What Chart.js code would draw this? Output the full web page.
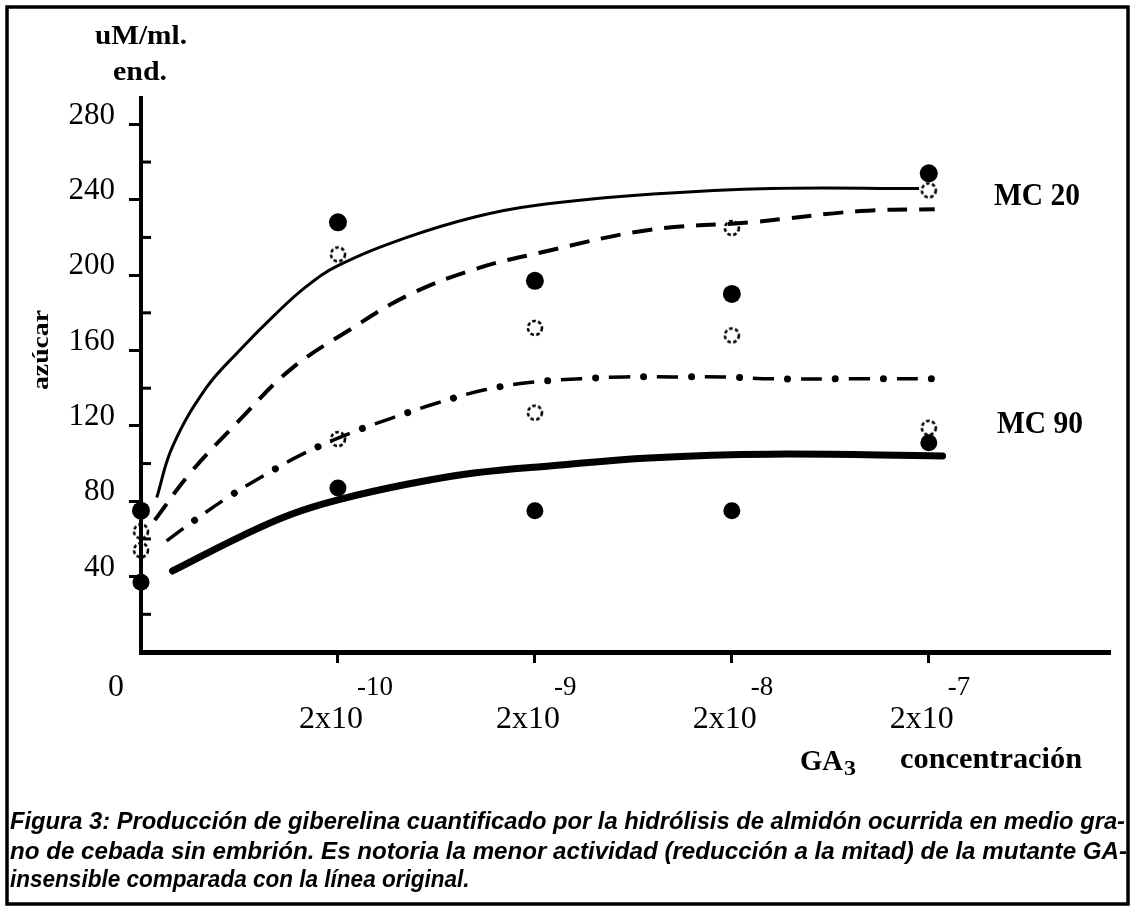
<!DOCTYPE html>
<html>
<head>
<meta charset="utf-8">
<script src="https://cdn.jsdelivr.net/npm/chart.js@4/dist/chart.umd.min.js"></script>
<style>
  html, body { margin: 0; padding: 0; background: #fff; }
  #wrap { width: 1134px; height: 910px; }
</style>
</head>
<body>
<div id="wrap"><canvas id="c" width="1134" height="910"></canvas></div>
<script>
// ---------- data ----------
const xTickValues = [0, 1, 2, 3, 4];
const xTickBase = ['0', '2x10', '2x10', '2x10', '2x10'];
const xTickExp = ['', '-10', '-9', '-8', '-7'];
const yTickValues = [20, 40, 60, 80, 100, 120, 140, 160, 180, 200, 220, 240, 260, 280];

const pointX = [0, 1, 2, 3, 4];
const mc20Filled = [75, 228, 197, 190, 254];
const mc90Filled = [37, 87, 75, 75, 111];
const mc20Open = [64, 211, 172, 225, 245];
const mc90Open = [54, 113, 127, 168, 119];

const thinX = [0.08, 0.16, 0.33, 0.5, 0.67, 0.84, 1.0, 1.35, 1.7, 2.0, 2.6, 3.2, 3.95];
const thinY = [82, 109, 140, 160, 178, 194, 205, 220, 231, 237, 243, 246, 246];
const dashX = [0.07, 0.25, 0.5, 0.76, 1.06, 1.35, 1.69, 2.03, 2.58, 3.09, 3.65, 4.03];
const dashY = [70, 95, 123, 150, 171, 189, 203, 212, 224, 228, 234, 235];
const dotDashX = [0.13, 0.26, 0.44, 0.63, 0.82, 1.06, 1.27, 1.5, 1.74, 1.97, 2.23, 2.46, 2.7, 2.95, 3.2, 3.68, 4.02];
const dotDashY = [59, 69, 82, 94, 105, 116, 124, 132, 139, 143, 145, 146, 146, 146, 145, 145, 145];
const thickX = [0.16, 0.5, 0.76, 1.01, 1.35, 1.69, 2.1, 2.58, 3.19, 4.07];
const thickY = [43, 61, 73, 81, 89, 95, 99, 103, 105, 104];

const captionLines = [
  'Figura 3: Producción de giberelina cuantificado por la hidrólisis de almidón ocurrida en medio gra-',
  'no de cebada sin embrión. Es notoria la menor actividad (reducción a la mitad) de la mutante GA-',
  'insensible comparada con la línea original.'
];

// ---------- helpers ----------
const zip = (xs, ys) => xs.map((x, i) => ({ x: x, y: ys[i] }));
const SERIF = '"Liberation Serif", "DejaVu Serif", serif';
const SANS = '"Liberation Sans", "DejaVu Sans", sans-serif';

function dottedCircle() {
  const c = document.createElement('canvas');
  c.width = 22; c.height = 22;
  const g = c.getContext('2d');
  g.strokeStyle = '#000';
  g.lineWidth = 2.6;
  g.setLineDash([3.6, 2.4]);
  g.beginPath();
  g.arc(11, 11, 7, 0, Math.PI * 2);
  g.stroke();
  return c;
}
const openStyle = dottedCircle();

function fitText(ctx, str, x, y, font, targetW, align, fixedScale) {
  ctx.save();
  ctx.font = font;
  const w = ctx.measureText(str).width;
  const sx = fixedScale ? fixedScale : (targetW ? targetW / w : 1);
  ctx.translate(x, y);
  ctx.scale(sx, 1);
  ctx.textAlign = align || 'center';
  ctx.textBaseline = 'middle';
  ctx.fillText(str, 0, 0);
  ctx.restore();
  return sx;
}

const decorPlugin = {
  id: 'decor',
  beforeDraw(chart) {
    const ctx = chart.ctx;
    ctx.save();
    ctx.fillStyle = '#fff';
    ctx.fillRect(0, 0, chart.width, chart.height);
    ctx.restore();
  },
  afterDraw(chart) {
    const ctx = chart.ctx;
    const xs = chart.scales.x, ys = chart.scales.y;
    ctx.save();
    ctx.fillStyle = '#000';
    ctx.strokeStyle = '#000';

    // inner (right-side) minor ticks on y axis
    ctx.lineWidth = 3;
    ys.ticks.forEach(t => {
      if (t.value % 40 !== 0) {
        const py = ys.getPixelForValue(t.value);
        ctx.beginPath();
        ctx.moveTo(xs.left, py);
        ctx.lineTo(xs.left + 10, py);
        ctx.stroke();
      }
    });

    // x tick labels
    xTickValues.forEach((v, i) => {
      const px = xs.getPixelForValue(v);
      if (v === 0) {
        fitText(ctx, xTickBase[i], px - 25, 688, '31px ' + SERIF, 16);
      } else {
        fitText(ctx, xTickBase[i], px - 7, 720, '31px ' + SERIF, 64);
        fitText(ctx, xTickExp[i], px + 19, 688, '27px ' + SERIF, null, 'left');
      }
    });

    // axis titles
    fitText(ctx, 'uM/ml.', 141, 37, 'bold 27px ' + SERIF, 92);
    fitText(ctx, 'end.', 140, 73, 'bold 27px ' + SERIF, 54);
    ctx.save();
    ctx.translate(42, 350);
    ctx.rotate(-Math.PI / 2);
    fitText(ctx, 'azúcar', 0, 0, 'bold 24px ' + SERIF, 80);
    ctx.restore();

    // series labels
    fitText(ctx, 'MC 20', 1037, 197, 'bold 31px ' + SERIF, 86);
    fitText(ctx, 'MC 90', 1040, 425, 'bold 31px ' + SERIF, 86);

    // x axis title GA3 concentración
    fitText(ctx, 'GA', 800, 762, 'bold 30px ' + SERIF, 43, 'left');
    fitText(ctx, '3', 844, 770, 'bold 21px ' + SERIF, 12, 'left');
    fitText(ctx, 'concentración', 900, 760, 'bold 30px ' + SERIF, 182, 'left');

    // caption
    const cf = 'bold italic 24px ' + SANS;
    const s1 = fitText(ctx, captionLines[0], 10, 822, cf, 1115, 'left');
    fitText(ctx, captionLines[1], 10, 852, cf, 1117, 'left');
    fitText(ctx, captionLines[2], 10, 880, cf, null, 'left', s1 * 0.95);

    // outer frame
    ctx.lineWidth = 3.5;
    ctx.strokeRect(7, 7, 1121, 897);
    ctx.restore();
  }
};

const lineBase = { type: 'line', showLine: true, pointRadius: 0, pointHoverRadius: 0, fill: false,
  borderColor: '#000', tension: 0.4, borderCapStyle: 'butt' };

new Chart(document.getElementById('c'), {
  type: 'scatter',
  data: {
    datasets: [
      Object.assign({}, lineBase, { label: 'MC 20 (ajuste, continuo)', data: zip(thinX, thinY), borderWidth: 3 }),
      Object.assign({}, lineBase, { label: 'MC 20 (ajuste, discontinuo)', data: zip(dashX, dashY), borderWidth: 4, borderDash: [20, 12] }),
      Object.assign({}, lineBase, { label: 'MC 90 (ajuste, punto-raya)', data: zip(dotDashX, dotDashY), borderWidth: 3.5, borderDash: [21, 27] }),
      Object.assign({}, lineBase, { label: 'MC 90 (puntos)', data: zip(dotDashX, dotDashY), borderWidth: 7, borderDash: [0.01, 47.99], borderDashOffset: 13.5, borderCapStyle: 'round' }),
      Object.assign({}, lineBase, { label: 'MC 90 (ajuste, grueso)', data: zip(thickX, thickY), borderWidth: 7, borderCapStyle: 'round' }),
      { label: 'MC 20 lleno', data: zip(pointX, mc20Filled), pointStyle: 'circle', pointRadius: 9, backgroundColor: '#000', borderColor: '#000', borderWidth: 0, clip: false },
      { label: 'MC 90 lleno', data: zip(pointX, mc90Filled), pointStyle: 'circle', pointRadius: 8.5, backgroundColor: '#000', borderColor: '#000', borderWidth: 0, clip: false },
      { label: 'MC 20 abierto', data: zip(pointX, mc20Open), pointStyle: openStyle, pointRadius: 9, clip: false },
      { label: 'MC 90 abierto', data: zip(pointX, mc90Open), pointStyle: openStyle, pointRadius: 9, clip: false }
    ]
  },
  options: {
    responsive: false,
    animation: false,
    events: [],
    layout: { padding: { top: 98, right: 24, left: 0, bottom: 0 } },
    plugins: { legend: { display: false }, tooltip: { enabled: false }, title: { display: false } },
    scales: {
      x: {
        type: 'linear', min: 0, max: 4.92,
        afterBuildTicks: s => { s.ticks = xTickValues.map(v => ({ value: v })); },
        afterFit: s => { s.height = 910 - 652; },
        ticks: { display: false },
        grid: { drawOnChartArea: false, drawTicks: true, tickLength: 11, tickWidth: 3,
          tickColor: c => (c.tick && c.tick.value === 0) ? 'rgba(0,0,0,0)' : '#000' },
        border: { display: true, color: '#000', width: 5 }
      },
      y: {
        type: 'linear', min: 0, max: 294,
        afterBuildTicks: s => { s.ticks = yTickValues.map(v => ({ value: v })); },
        afterFit: s => { s.width = 141; },
        ticks: { color: '#000', padding: 14, labelOffset: -9, autoSkip: false,
          font: { family: SERIF, size: 31 },
          callback: v => (v % 40 === 0 ? String(v) : '') },
        grid: { drawOnChartArea: false, drawTicks: true, tickLength: 12, tickWidth: 3,
          tickColor: c => (c.tick && c.tick.value % 40 === 0) ? '#000' : 'rgba(0,0,0,0)' },
        border: { display: true, color: '#000', width: 4 }
      }
    }
  },
  plugins: [decorPlugin]
});
</script>
</body>
</html>
